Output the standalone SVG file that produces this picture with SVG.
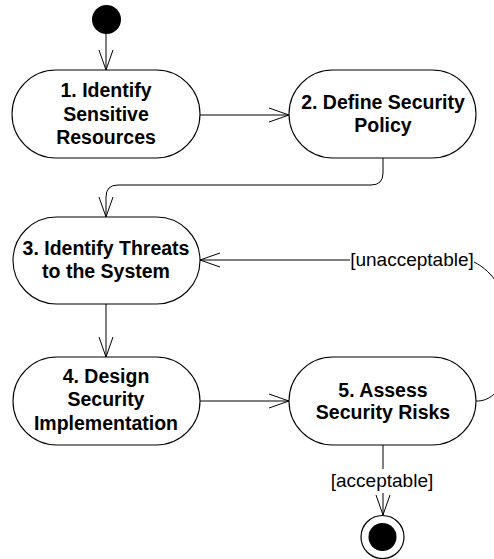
<svg xmlns="http://www.w3.org/2000/svg" width="494" height="559" viewBox="0 0 494 559">
<style>
.node rect{fill:#fff;stroke:#000;stroke-width:1.1}
.t{font-family:"Liberation Sans",Arial,sans-serif;font-weight:bold;font-size:19.5px;text-anchor:middle;fill:#000}
.lbl{font-family:"Liberation Sans",Arial,sans-serif;font-size:19px;text-anchor:middle;fill:#000}
.c{fill:none;stroke:#000;stroke-width:1}
</style>
<defs>
<marker id="arr" viewBox="0 0 22 16" refX="21" refY="8" markerWidth="22" markerHeight="16" markerUnits="userSpaceOnUse" orient="auto">
<path d="M1,1 L21,8 L1,15" fill="none" stroke="#000" stroke-width="1"/>
</marker>
</defs>
<g id="connectors">
<path class="c" d="M106,34 V70" marker-end="url(#arr)"/>
<path class="c" d="M200,115 H289" marker-end="url(#arr)"/>
<path class="c" d="M383,158 V173 Q383,185 371,185 H118 Q106,185 106,197 V217" marker-end="url(#arr)"/>
<path class="c" d="M106,304 V357" marker-end="url(#arr)"/>
<path class="c" d="M200,401 H289" marker-end="url(#arr)"/>
<path class="c" d="M476,401 C520,403 530,290 474,262"/>
<path class="c" d="M350,260 H200" marker-end="url(#arr)"/>
<path class="c" d="M383,445 V515" marker-end="url(#arr)"/>
<rect x="325" y="469" width="108" height="24" fill="#fff"/>
<text class="lbl" x="382" y="487">[acceptable]</text>
<text class="lbl" x="412" y="266">[unacceptable]</text>
</g>
<g id="start"><circle cx="106.5" cy="19.5" r="14.5" fill="#000"/></g>
<g id="n1" class="node"><rect x="12" y="70" width="188" height="88" rx="44" ry="44"/>
<text class="t" x="106" y="97">1. Identify</text><text class="t" x="106" y="120.5">Sensitive</text><text class="t" x="106" y="144">Resources</text></g>
<g id="n2" class="node"><rect x="289" y="70" width="187" height="88" rx="44" ry="44"/>
<text class="t" x="383" y="109">2. Define Security</text><text class="t" x="383" y="132">Policy</text></g>
<g id="n3" class="node"><rect x="13" y="217" width="187" height="87" rx="43.5" ry="43.5"/>
<text class="t" x="106" y="255">3. Identify Threats</text><text class="t" x="106" y="278">to the System</text></g>
<g id="n4" class="node"><rect x="13" y="357" width="187" height="88" rx="44" ry="44"/>
<text class="t" x="106" y="383">4. Design</text><text class="t" x="106" y="406">Security</text><text class="t" x="106" y="430">Implementation</text></g>
<g id="n5" class="node"><rect x="289" y="357" width="187" height="88" rx="44" ry="44"/>
<text class="t" x="383" y="396.5">5. Assess</text><text class="t" x="383" y="419">Security Risks</text></g>
<g id="end"><circle cx="382.5" cy="537" r="21.5" fill="#fff" stroke="#000" stroke-width="1.2"/><circle cx="382.5" cy="537" r="14" fill="#000"/></g>
</svg>
